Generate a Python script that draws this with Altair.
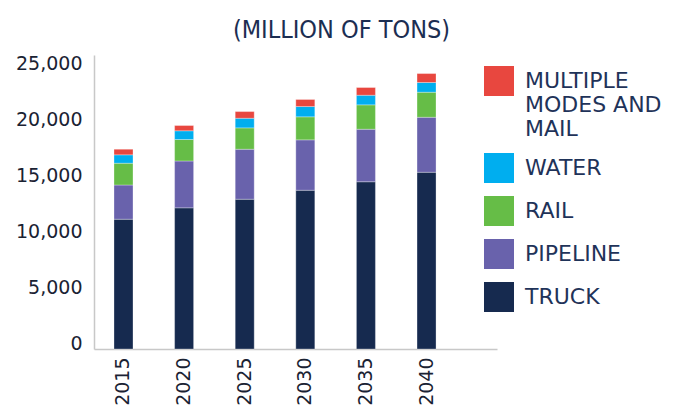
import altair as alt
import pandas as pd

years = ["2015", "2020", "2025", "2030", "2035", "2040"]
truck = [11610, 12630, 13400, 14200, 14960, 15810]
pipeline = [3060, 4190, 4470, 4510, 4700, 4920]
rail = [1950, 1920, 1910, 2060, 2180, 2240]
water = [750, 780, 860, 920, 860, 870]
multiple = [500, 470, 600, 630, 690, 800]

modes = ["MULTIPLE MODES AND MAIL", "WATER", "RAIL", "PIPELINE", "TRUCK"]
colors = ["#E8473F", "#00AEEF", "#66BD47", "#6962AC", "#162A4F"]
stack_order = {"TRUCK": 0, "PIPELINE": 1, "RAIL": 2, "WATER": 3, "MULTIPLE MODES AND MAIL": 4}

series = {
    "TRUCK": truck,
    "PIPELINE": pipeline,
    "RAIL": rail,
    "WATER": water,
    "MULTIPLE MODES AND MAIL": multiple,
}
rows = []
for mode, vals in series.items():
    for y, v in zip(years, vals):
        rows.append({"year": y, "mode": mode, "value": v, "ord": stack_order[mode]})
df = pd.DataFrame(rows)

label_font = "DejaVu Sans"
multi = "MULTIPLE MODES AND MAIL"

chart = (
    alt.Chart(df)
    .mark_bar(stroke="white", strokeWidth=1, strokeOpacity=0.3)
    .encode(
        x=alt.X(
            "year:N",
            sort=years,
            scale=alt.Scale(paddingInner=0.6865, paddingOuter=0.668, align=0.247),
            axis=alt.Axis(
                title=None,
                labelAngle=-90,
                labelFont=label_font,
                labelFontSize=19,
                labelColor="#1A2233",
                labelPadding=8,
                ticks=False,
                domainColor="#C8C8C8",
                domainWidth=1.5,
            ),
        ),
        y=alt.Y(
            "value:Q",
            stack="zero",
            scale=alt.Scale(domain=[0, 26300], nice=False),
            axis=alt.Axis(
                title=None,
                values=[0, 5000, 10000, 15000, 20000, 25000],
                format=",d",
                grid=False,
                ticks=False,
                labelFont=label_font,
                labelFontSize=19,
                labelColor="#1A2233",
                labelBaseline="alphabetic",
                labelPadding=12,
                domainColor="#C8C8C8",
                domainWidth=1.5,
            ),
        ),
        color=alt.Color(
            "mode:N",
            scale=alt.Scale(domain=modes, range=colors),
            legend=alt.Legend(
                title=None,
                orient="none",
                legendX=390,
                legendY=11,
                padding=0,
                symbolType="square",
                symbolSize=900,
                symbolStrokeWidth=0,
                symbolOpacity=1,
                labelFont=label_font,
                labelFontSize=22,
                labelColor="#1F3359",
                labelOffset=11,
                labelBaseline="middle",
                labelLimit=300,
                rowPadding=13,
                labelExpr="datum.label == '" + multi + "' ? ['MULTIPLE', 'MODES AND', 'MAIL'] : datum.label",
            ),
        ),
        order=alt.Order("ord:Q", sort="ascending"),
    )
    .properties(
        width=403,
        height=294,
        title=alt.TitleParams(
            "(MILLION OF TONS)",
            font="DejaVu Sans Condensed, sans-serif",
            fontSize=25,
            fontWeight="normal",
            color="#1C2E52",
            anchor="middle",
            dx=46,
            offset=12,
        ),
        padding={"left": 7, "top": 9, "right": 0, "bottom": 0},
    )
    .configure_view(stroke=None)
)

chart.save("out.html", embed_options={"renderer": "svg", "actions": False})
